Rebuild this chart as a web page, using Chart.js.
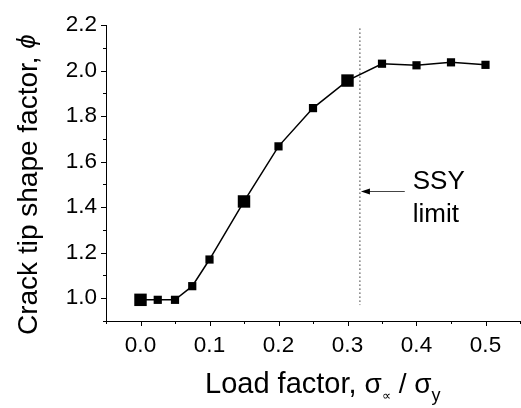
<!DOCTYPE html>
<html>
<head>
<meta charset="utf-8">
<script src="https://cdn.jsdelivr.net/npm/chart.js@4"></script>
<style>
  html, body { margin: 0; background: #fff; overflow: hidden; }
  canvas { display: block; }
</style>
</head>
<body>
<canvas id="grafico" width="521" height="408"></canvas>
<script>
// data
const loadFactor = [0, 0.025, 0.05, 0.075, 0.1, 0.15, 0.2, 0.25, 0.3, 0.35, 0.4, 0.45, 0.5];
const shapeFactor = [0.993, 0.993, 0.993, 1.053, 1.17, 1.425, 1.667, 1.835, 1.956, 2.03, 2.023, 2.036, 2.025];
const bigPoints = [0, 0.15, 0.3];

const xTicks = [0.0, 0.1, 0.2, 0.3, 0.4, 0.5];
const yTicks = [1.0, 1.2, 1.4, 1.6, 1.8, 2.0, 2.2];

const ssyLimit = 0.318;
const ssyLineY = [2.185, 0.97];
const arrowFrom = [0.383, 1.47];
const ssyLabel = ["SSY", "limit"];

const FONT = "'Liberation Sans', Arial, sans-serif";

// major + minor ticks
function withMinor(majors, lo, hi) {
  const step = (majors[1] - majors[0]) / 2;
  const out = [];
  for (let v = majors[0] - step; v >= lo - 1e-9; v -= step) out.unshift(v);
  majors.forEach((m, i) => {
    out.push(m);
    if (i < majors.length - 1) out.push(m + step);
  });
  for (let v = majors[majors.length - 1] + step; v <= hi + 1e-9; v += step) out.push(v);
  return out.map(v => ({ value: +v.toFixed(4) }));
}
const isMajor = (list, v) => list.some(m => Math.abs(m - v) < 1e-6);

// ticks, titles, arrow
const pluginDecor = {
  id: "decor",
  afterDraw(chart) {
    const { ctx, chartArea, scales } = chart;
    const x = scales.x, y = scales.y;
    ctx.save();
    ctx.strokeStyle = "#000";
    ctx.lineWidth = 1;

    // axis ticks
    ctx.beginPath();
    x.ticks.forEach(t => {
      const px = Math.round(x.getPixelForValue(t.value)) + 0.5;
      const len = isMajor(xTicks, t.value) ? 5 : 3;
      ctx.moveTo(px, chartArea.bottom);
      ctx.lineTo(px, chartArea.bottom + len);
    });
    y.ticks.forEach(t => {
      const py = Math.round(y.getPixelForValue(t.value)) + 0.5;
      const len = isMajor(yTicks, t.value) ? 5 : 3;
      ctx.moveTo(chartArea.left, py);
      ctx.lineTo(chartArea.left - len, py);
    });
    ctx.stroke();

    // arrow to the SSY line
    const ax0 = x.getPixelForValue(arrowFrom[0]);
    const ax1 = x.getPixelForValue(ssyLimit) + 1;
    const ay = Math.round(y.getPixelForValue(arrowFrom[1])) + 0.5;
    ctx.strokeStyle = "#444";
    ctx.beginPath();
    ctx.moveTo(ax0, ay);
    ctx.lineTo(ax1 + 6, ay);
    ctx.stroke();
    ctx.fillStyle = "#000";
    ctx.beginPath();
    ctx.moveTo(ax1, ay);
    ctx.lineTo(ax1 + 9, ay - 3);
    ctx.lineTo(ax1 + 9, ay + 3);
    ctx.closePath();
    ctx.fill();

    // SSY limit text
    ctx.fillStyle = "#000";
    ctx.font = "26px " + FONT;
    ctx.textBaseline = "alphabetic";
    ctx.textAlign = "left";
    ctx.fillText(ssyLabel[0], ax0 + 8, ay - 3);
    ctx.fillText(ssyLabel[1], ax0 + 8, ay + 30);

    // x title with subscripts
    const parts = [
      ["Load factor, ", 29, 0],
      ["\u03C3", 28, 0],
      ["\u221D", 13, 7],
      [" / ", 28, 0],
      ["\u03C3", 28, 0],
      ["y", 18, 8]
    ];
    let tx = chartArea.left + 99;
    const ty = chartArea.bottom + 72;
    parts.forEach(p => {
      ctx.font = p[1] + "px " + FONT;
      ctx.fillText(p[0], tx, ty + p[2]);
      tx += ctx.measureText(p[0]).width;
    });

    // y title, rotated
    ctx.save();
    ctx.translate(37, 335);
    ctx.rotate(-Math.PI / 2);
    ctx.font = "28px " + FONT;
    const yt = "Crack tip shape factor, ";
    ctx.fillText(yt, 0, 0);
    const w = ctx.measureText(yt).width;
    ctx.font = "italic 26px " + FONT;
    ctx.fillText("\u03D5", w, -2);
    ctx.restore();

    ctx.restore();
  }
};

new Chart(document.getElementById("grafico"), {
  type: "scatter",
  data: {
    datasets: [
      {
        label: "phi",
        data: loadFactor.map((v, i) => ({ x: v, y: shapeFactor[i] })),
        showLine: true,
        borderColor: "#000",
        borderWidth: 1.5,
        backgroundColor: "#000",
        pointStyle: "rect",
        pointRadius: c => bigPoints.includes(loadFactor[c.dataIndex]) ? 8.8 : 5.8,
        pointBorderWidth: 0
      },
      {
        label: "SSY",
        data: ssyLineY.map(v => ({ x: ssyLimit, y: v })),
        showLine: true,
        borderColor: "#333",
        borderWidth: 1,
        borderDash: [1.5, 2.5],
        pointRadius: 0
      }
    ]
  },
  options: {
    responsive: false,
    animation: false,
    layout: { autoPadding: false, padding: { top: 25, right: 1, left: 0, bottom: 0 } },
    plugins: { legend: { display: false }, tooltip: { enabled: false } },
    scales: {
      x: {
        type: "linear",
        min: -0.05,
        max: 0.55,
        afterBuildTicks: s => { s.ticks = withMinor(xTicks, -0.05, 0.55); },
        afterFit: s => { s.height = 87; s.paddingLeft = 0; s.paddingRight = 0; },
        border: { display: true, color: "#000", width: 1 },
        // invisible tick marks just push the labels down; real ticks drawn in plugin
        grid: { display: true, drawOnChartArea: false, drawTicks: true, tickLength: 11, tickColor: "rgba(0,0,0,0)", color: "rgba(0,0,0,0)" },
        ticks: {
          autoSkip: false,
          maxRotation: 0,
          padding: 0,
          color: "#000",
          font: { family: FONT, size: 22.5 },
          callback: v => isMajor(xTicks, v) ? v.toFixed(1) : ""
        }
      },
      y: {
        type: "linear",
        min: 0.9,
        max: 2.2,
        afterBuildTicks: s => { s.ticks = withMinor(yTicks, 0.9, 2.2); },
        afterFit: s => { s.width = 106; },
        border: { display: true, color: "#000", width: 1 },
        grid: { display: false, drawTicks: false },
        ticks: {
          autoSkip: false,
          padding: 9,
          color: "#000",
          font: { family: FONT, size: 22.5 },
          callback: v => isMajor(yTicks, v) ? v.toFixed(1) : ""
        }
      }
    }
  },
  plugins: [pluginDecor]
});
</script>
</body>
</html>
